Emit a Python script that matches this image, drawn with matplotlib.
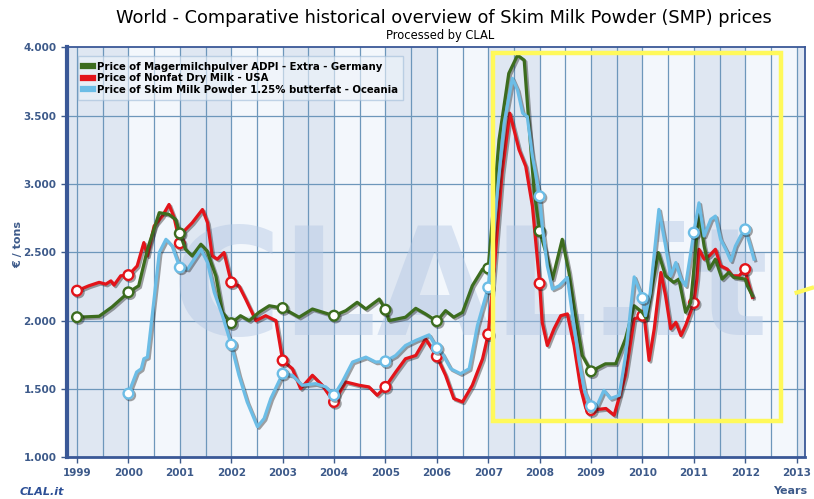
import numpy as np
import matplotlib
matplotlib.use('Agg')
import matplotlib.pyplot as plt
import matplotlib.patheffects as pe
from matplotlib.lines import Line2D
from matplotlib.patches import Rectangle

# Germany - Magermilchpulver ADPI Extra
de_x = [1999.0, 1999.43, 1999.68, 2000.0, 2000.2, 2000.37, 2000.6, 2000.79, 2000.92, 2001.0,
        2001.11, 2001.24, 2001.41, 2001.53, 2001.70, 2001.83, 2002.0, 2002.18, 2002.35, 2002.54,
        2002.74, 2003.0, 2003.32, 2003.58, 2004.0, 2004.23, 2004.45, 2004.62, 2004.88, 2005.0,
        2005.07, 2005.39, 2005.59, 2005.78, 2006.0, 2006.17, 2006.33, 2006.50, 2006.69, 2006.89,
        2007.0, 2007.21, 2007.40, 2007.57, 2007.70, 2007.79, 2007.89, 2008.0, 2008.12, 2008.25,
        2008.44, 2008.57, 2008.70, 2008.83, 2009.0, 2009.28, 2009.48, 2009.67, 2009.84, 2010.0,
        2010.08, 2010.19, 2010.31, 2010.45, 2010.61, 2010.71, 2010.84, 2010.94, 2011.0, 2011.10,
        2011.20, 2011.30, 2011.42, 2011.55, 2011.68, 2011.78, 2012.0, 2012.04, 2012.14]
de_y = [2025, 2032, 2100, 2207, 2255, 2522, 2790, 2777, 2740, 2638,
        2522, 2474, 2559, 2510, 2328, 2061, 1981, 2036, 2000, 2061,
        2109, 2092, 2025, 2085, 2036, 2073, 2134, 2085, 2158, 2080,
        2000, 2025, 2090, 2049, 1996, 2073, 2025, 2061, 2255, 2377,
        2382, 3323, 3809, 3942, 3906, 3447, 2959, 2655, 2500, 2304,
        2595, 2355, 2036, 1745, 1629, 1684, 1684, 1867, 2109, 2060,
        2012, 2255, 2498, 2328, 2280, 2304, 2061, 2134, 2377, 2790,
        2546, 2377, 2450, 2304, 2353, 2316, 2304, 2255, 2182]
de_marks = list(range(1999, 2010))

# USA - Nonfat Dry Milk
us_x = [1999.0, 1999.23, 1999.43, 1999.56, 1999.66, 1999.72, 1999.85, 2000.0, 2000.17, 2000.30,
        2000.37, 2000.5, 2000.66, 2000.79, 2000.89, 2001.0, 2001.08, 2001.24, 2001.44, 2001.54,
        2001.63, 2001.73, 2001.86, 2002.0, 2002.15, 2002.28, 2002.48, 2002.67, 2002.87, 2003.0,
        2003.19, 2003.35, 2003.58, 2003.77, 2004.0, 2004.23, 2004.49, 2004.68, 2004.84, 2005.0,
        2005.20, 2005.39, 2005.59, 2005.78, 2006.0, 2006.17, 2006.33, 2006.50, 2006.69, 2006.89,
        2007.0, 2007.11, 2007.27, 2007.42, 2007.6, 2007.73, 2007.86, 2008.0, 2008.05, 2008.15,
        2008.28, 2008.41, 2008.54, 2008.67, 2008.80, 2008.90, 2009.0, 2009.29, 2009.45, 2009.55,
        2009.67, 2009.84, 2010.0, 2010.04, 2010.13, 2010.23, 2010.36, 2010.45, 2010.55, 2010.65,
        2010.75, 2010.84, 2011.0, 2011.06, 2011.10, 2011.20, 2011.30, 2011.42, 2011.52, 2011.65,
        2011.75, 2011.88, 2012.0, 2012.04, 2012.14]
us_y = [2219, 2255, 2280, 2267, 2291, 2260, 2328, 2333, 2400, 2571,
        2474, 2692, 2765, 2850, 2753, 2566, 2655, 2716, 2813, 2716,
        2474, 2450, 2498, 2280, 2255, 2158, 2000, 2036, 2000, 1709,
        1648, 1502, 1600, 1527, 1405, 1551, 1527, 1515, 1454, 1515,
        1624, 1721, 1745, 1867, 1738, 1600, 1430, 1405, 1527, 1721,
        1900, 2352, 3081, 3518, 3250, 3129, 2837, 2272, 1988, 1818,
        1940, 2036, 2049, 1818, 1502, 1357, 1345, 1357, 1308, 1440,
        1600, 2012, 2036, 2012, 1709, 1940, 2352, 2182, 1940, 1988,
        1891, 1964, 2129, 2304, 2522, 2450, 2474, 2522, 2401, 2377,
        2328, 2328, 2377, 2304, 2170]
us_marks = list(range(1999, 2013))

# Oceania - Skim Milk Powder 1.25% butterfat
oc_x = [2000.0, 2000.16, 2000.25, 2000.30, 2000.37, 2000.47, 2000.6, 2000.73, 2000.85, 2001.0,
        2001.15, 2001.28, 2001.41, 2001.54, 2001.67, 2001.83, 2002.0, 2002.15, 2002.31, 2002.51,
        2002.64, 2002.77, 2003.0, 2003.19, 2003.38, 2003.64, 2003.84, 2004.0, 2004.16, 2004.36,
        2004.62, 2004.81, 2005.0, 2005.20, 2005.39, 2005.59, 2005.85, 2006.0, 2006.11, 2006.27,
        2006.46, 2006.63, 2006.79, 2007.0, 2007.15, 2007.31, 2007.47, 2007.57, 2007.67, 2007.76,
        2007.86, 2008.0, 2008.05, 2008.15, 2008.25, 2008.38, 2008.54, 2008.64, 2008.77, 2008.88,
        2009.0, 2009.12, 2009.25, 2009.38, 2009.55, 2009.67, 2009.84, 2010.0, 2010.06, 2010.15,
        2010.32, 2010.45, 2010.55, 2010.65, 2010.75, 2010.84, 2011.0, 2011.10, 2011.20, 2011.33,
        2011.42, 2011.52, 2011.62, 2011.72, 2011.81, 2011.91, 2012.0, 2012.08, 2012.17]
oc_y = [1466, 1624, 1648, 1721, 1733, 2061, 2498, 2595, 2546, 2389,
        2377, 2450, 2522, 2425, 2207, 2036, 1825, 1600, 1405, 1224,
        1284, 1430, 1612, 1600, 1527, 1539, 1515, 1454, 1551, 1697,
        1733, 1697, 1702, 1745, 1818, 1855, 1896, 1799, 1757, 1648,
        1612, 1648, 1964, 2243, 2837, 3445, 3773, 3688, 3518, 3493,
        3202, 2910, 2692, 2400, 2231, 2255, 2316, 2036, 1697, 1478,
        1374, 1381, 1490, 1430, 1454, 1740, 2320, 2165, 2036, 2200,
        2814, 2546, 2328, 2425, 2304, 2255, 2644, 2862, 2619, 2741,
        2765, 2595, 2522, 2437, 2546, 2619, 2668, 2571, 2450]
oc_marks = list(range(2000, 2013))

labels = ['Price of Magermilchpulver ADPI - Extra - Germany',
          'Price of Nonfat Dry Milk - USA',
          'Price of Skim Milk Powder 1.25% butterfat - Oceania']
colors = ['#3c6c1e', '#e3141a', '#6cbde6']
years = list(range(1999, 2014))

txt = '#3d5a8a'
frame = '#3a5897'

fig = plt.figure(figsize=(8.14, 4.99), dpi=100)
ax = fig.add_axes([67/814, 1-457.3/499, 738/814, 410/499])
ax.set_xlim(1998.805, 2013.163)
ax.set_ylim(1000, 4000)

# alternating year bands
for i, yr in enumerate(years):
    left = 1998.805 if yr == 1999 else yr
    ax.axvspan(left, yr + 1, color='#dfe7f2' if i % 2 == 0 else '#f3f7fc', zorder=0, lw=0)

for hx in np.arange(1999, 2013.5, 0.5):
    ax.axvline(hx, color='#6d97bb', lw=0.9, zorder=0.5)
for hy in range(1500, 4000, 500):
    ax.axhline(hy, color='#6d97bb', lw=0.9, zorder=0.5)

ax.text(2006.65, 1895, 'CLAL.it', fontsize=108, fontweight='bold', color='#b3c7e4',
        alpha=0.45, ha='center', va='baseline', zorder=1, clip_on=True)

shadow = [pe.SimpleLineShadow(offset=(1.2, -1.2), shadow_color='#1a1a1a', alpha=0.4), pe.Normal()]
series = [(us_x, us_y, us_marks, colors[1]),
          (de_x, de_y, de_marks, colors[0]),
          (oc_x, oc_y, oc_marks, colors[2])]
for xs, ys, marks, c in series:
    xs = np.array(xs)
    mk = [bool(np.isclose(v, round(v)) and round(v) in marks) for v in xs]
    ax.plot(xs, ys, color=c, lw=2.3, zorder=3, marker='o', markevery=mk, ms=7,
            mfc='white', mec=c, mew=1.7, path_effects=shadow, solid_joinstyle='round')

# highlight box
ax.add_patch(Rectangle((2007.09, 1269), 2012.69 - 2007.09, 3960 - 1269, fill=False,
                       ec='#fff95a', lw=3.2, zorder=4))
ax.plot([2013.0, 2013.3], [2205, 2240], color='#fff95a', lw=3, clip_on=False, zorder=4)

handles = [Line2D([], [], color=c, lw=4.5) for c in colors]
leg = ax.legend(handles, labels, loc='upper left', bbox_to_anchor=(0.008, 0.99),
                prop={'weight': 'bold', 'size': 7.3}, handlelength=1.0, handletextpad=0.4,
                labelspacing=0.15, borderpad=0.5, fancybox=False, framealpha=0.6)
leg.get_frame().set_facecolor('#eef3fa')
leg.get_frame().set_edgecolor('#9fbcd8')
leg.set_zorder(5)

ax.set_xticks(years)
ax.set_xticklabels([str(y) for y in years])
ax.set_yticks(range(1000, 4001, 500))
ax.set_yticklabels(['{:,}'.format(v).replace(',', '.') for v in range(1000, 4001, 500)])
ax.tick_params(axis='both', colors=txt, length=4, width=1, labelsize=7.5, direction='out')
for lab in ax.get_xticklabels() + ax.get_yticklabels():
    lab.set_fontweight('bold')
    lab.set_color(txt)

for s in ax.spines.values():
    s.set_color(frame)
    s.set_linewidth(1.3)
ax.spines['left'].set_linewidth(3)
ax.spines['bottom'].set_linewidth(2)

fig.text(0.022, 1-245/499, '€ / tons', rotation=90, ha='center', va='center',
         fontsize=8, fontweight='bold', color=txt)
fig.text(790/814, 1-491/499, 'Years', ha='center', va='center', fontsize=8,
         fontweight='bold', color=txt)
fig.text(20/814, 1-492/499, 'CLAL.it', ha='left', va='center', fontsize=8,
         fontweight='bold', style='italic', color='#2c4f96')
fig.text(444/814, 1-18/499, 'World - Comparative historical overview of Skim Milk Powder (SMP) prices',
         ha='center', va='center', fontsize=12.8, color='black')
fig.text(440/814, 1-35/499, 'Processed by CLAL', ha='center', va='center', fontsize=8.3,
         color='black')

fig.savefig('out.png', dpi=100)
